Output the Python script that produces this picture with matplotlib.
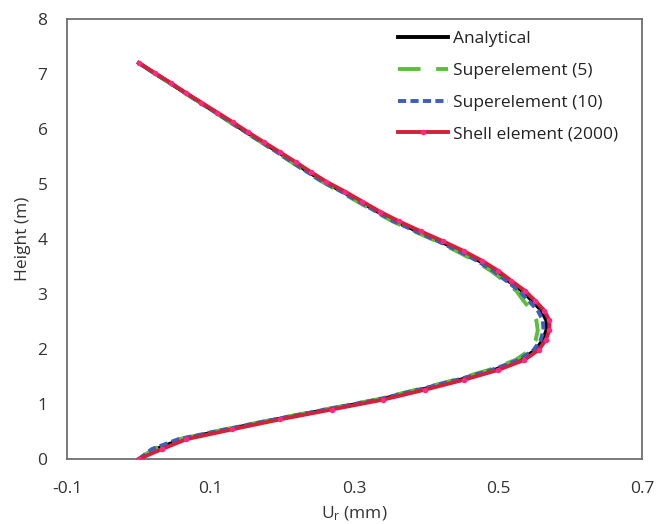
import matplotlib
matplotlib.use("Agg")
import matplotlib.pyplot as plt

plt.rcParams['font.family'] = ['Open Sans', 'DejaVu Sans']
plt.rcParams['mathtext.fontset'] = 'custom'
plt.rcParams['mathtext.rm'] = 'Open Sans'
plt.rcParams['mathtext.it'] = 'Open Sans'

height = [0.00, 0.18, 0.36, 0.54, 0.72, 0.90, 1.08, 1.26, 1.44, 1.62,
          1.80, 1.98, 2.16, 2.34, 2.52, 2.70, 2.88, 3.06, 3.24, 3.42,
          3.60, 3.78, 3.96, 4.14, 4.32, 4.50, 4.68, 4.86, 5.04, 5.22,
          5.40, 5.58, 5.76, 5.94, 6.12, 6.30, 6.48, 6.66, 6.84, 7.02, 7.20]

shell_2000 = [0.000, 0.032, 0.066, 0.130, 0.196, 0.268, 0.340, 0.398, 0.452, 0.500,
              0.536, 0.556, 0.566, 0.571, 0.571, 0.564, 0.551, 0.537, 0.518, 0.500,
              0.478, 0.452, 0.423, 0.392, 0.362, 0.335, 0.311, 0.287, 0.261, 0.239,
              0.218, 0.196, 0.174, 0.152, 0.131, 0.109, 0.087, 0.065, 0.044, 0.022, 0.000]

analytical = [0.000, 0.024, 0.060, 0.124, 0.191, 0.263, 0.335, 0.393, 0.447, 0.495,
              0.531, 0.552, 0.562, 0.567, 0.567, 0.560, 0.547, 0.533, 0.514, 0.496,
              0.474, 0.448, 0.419, 0.388, 0.358, 0.332, 0.308, 0.284, 0.258, 0.236,
              0.215, 0.194, 0.172, 0.150, 0.129, 0.107, 0.086, 0.064, 0.043, 0.021, 0.000]

super_5 = [0.000, 0.020, 0.056, 0.120, 0.187, 0.258, 0.330, 0.386, 0.440, 0.487,
           0.524, 0.544, 0.552, 0.555, 0.553, 0.546, 0.535, 0.525, 0.508, 0.490,
           0.468, 0.442, 0.414, 0.383, 0.353, 0.328, 0.304, 0.280, 0.255, 0.233,
           0.212, 0.191, 0.170, 0.148, 0.127, 0.106, 0.085, 0.063, 0.042, 0.021, 0.000]

super_10 = [0.000, 0.018, 0.055, 0.121, 0.189, 0.260, 0.332, 0.389, 0.443, 0.491,
            0.528, 0.549, 0.559, 0.563, 0.562, 0.555, 0.542, 0.529, 0.511, 0.493,
            0.471, 0.445, 0.416, 0.385, 0.355, 0.330, 0.306, 0.282, 0.256, 0.234,
            0.213, 0.192, 0.171, 0.149, 0.128, 0.107, 0.085, 0.064, 0.043, 0.021, 0.000]

x_ticks = [-0.1, 0.1, 0.3, 0.5, 0.7]
x_tick_labels = ['-0.1', '0.1', '0.3', '0.5', '0.7']
y_ticks = [0, 1, 2, 3, 4, 5, 6, 7, 8]

fig = plt.figure(figsize=(6.57, 5.24), dpi=100)
ax = fig.add_axes([67/657, 1-459/524, (642-67)/657, (459-19)/524])

ax.plot(analytical, height, color='black', lw=2.8, label='Analytical', zorder=2)
ax.plot(super_5, height, color='#5bbf3a', lw=2.8, linestyle=(0, (5.8, 4.0)),
        label='Superelement (5)', zorder=3)
ax.plot(super_10, height, color='#3d5fb8', lw=2.8, linestyle=(0, (2.1, 1.1)),
        label='Superelement (10)', zorder=4)
ax.plot(shell_2000, height, color='#d2213a', lw=2.8, marker='o', markersize=3,
        markerfacecolor='#ff2a80', markeredgecolor='#ff2a80',
        label='Shell element (2000)', zorder=5)

ax.set_xlim(-0.1, 0.7)
ax.set_ylim(0, 8)
ax.set_xticks(x_ticks)
ax.set_xticklabels(x_tick_labels)
ax.set_yticks(y_ticks)
ax.tick_params(axis='both', length=0, labelsize=12.5, colors='#333333')
ax.tick_params(axis='x', pad=16)
ax.tick_params(axis='y', pad=14)

for s in ax.spines.values():
    s.set_color('#6e6e6e')
    s.set_linewidth(1.3)

ax.set_xlabel(r'U$_\mathrm{r}$ (mm)', fontsize=12.5, color='#333333', labelpad=5)
ax.set_ylabel('Height (m)', fontsize=12.5, color='#333333', labelpad=5)

leg = ax.legend(loc='upper left', bbox_to_anchor=(398/657, 1-31/524),
                bbox_transform=fig.transFigure, frameon=False, fontsize=12.5,
                handlelength=2.9, handletextpad=0.25, labelspacing=0.9,
                borderaxespad=0, borderpad=0)
for t in leg.get_texts():
    t.set_color('#222222')

fig.savefig('out.png', dpi=100)
